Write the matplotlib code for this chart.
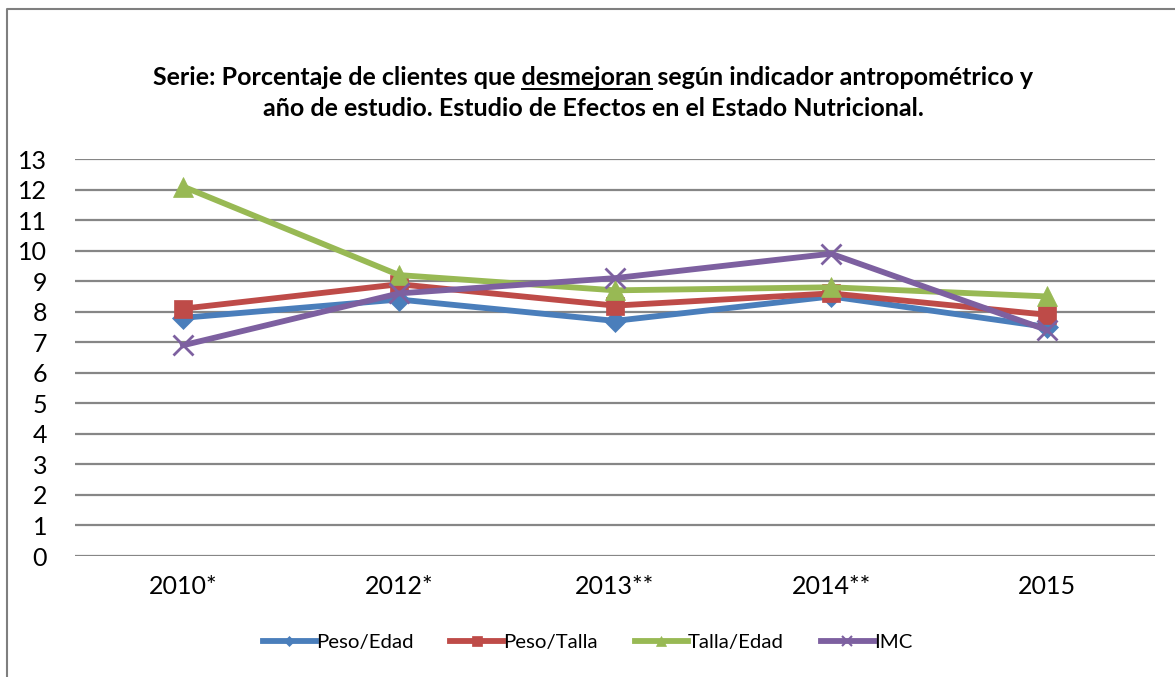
import matplotlib.pyplot as plt
from matplotlib.lines import Line2D

plt.rcParams['font.family'] = ['Lato', 'DejaVu Sans']

years = ['2010*', '2012*', '2013**', '2014**', '2015']
peso_edad = [7.8, 8.4, 7.7, 8.5, 7.5]
peso_talla = [8.1, 8.9, 8.2, 8.6, 7.9]
talla_edad = [12.1, 9.2, 8.7, 8.8, 8.5]
imc = [6.9, 8.6, 9.1, 9.9, 7.4]

series = [
    ('Peso/Edad', peso_edad, '#4A7EBB', 'D', 11),
    ('Peso/Talla', peso_talla, '#BE4B48', 's', 13.5),
    ('Talla/Edad', talla_edad, '#98B954', '^', 15),
    ('IMC', imc, '#7D60A0', 'x', 14),
]

fig = plt.figure(figsize=(11.75, 6.77), dpi=100)
ax = fig.add_axes([0.0638, 0.1787, 0.9192, 0.5864])

x = range(len(years))
for i, (name, vals, col, mk, ms) in enumerate(series):
    ax.plot(x, vals, color=col, lw=4.2, marker=mk, ms=ms, mew=2 if mk == 'x' else 0.5,
            mec=col, mfc=col, label=name, zorder=3 + i)

ax.set_xlim(-0.5, 4.5)
ax.set_ylim(0, 13)
ax.set_yticks(range(0, 14))
ax.set_xticks(list(x))
ax.set_xticklabels(years)
ax.tick_params(axis='both', length=0, labelsize=18, colors='#000000')
ax.tick_params(axis='y', pad=20)
ax.tick_params(axis='x', pad=14)
ax.grid(axis='y', color='#868686', lw=1.6)
ax.set_axisbelow(True)
for s in ax.spines.values():
    s.set_visible(False)

handles = [Line2D([], [], color=col, lw=4.2, marker=mk, ms=ms * 0.5,
                  mew=1.5 if mk == 'x' else 0.5, mec=col, mfc=col)
           for name, vals, col, mk, ms in series]
fig.legend(handles, [s[0] for s in series], loc='center', bbox_to_anchor=(0.5, 1 - 642 / 677),
           ncol=4, frameon=False, fontsize=14.7, handlelength=2.6, handletextpad=0.0,
           columnspacing=1.8)

# title, with underlined word
line1a = 'Serie: Porcentaje de clientes que'
word = 'desmejoran'
line1b = ' según indicador antropométrico y'
full1 = line1a + ' ' + word + line1b
tsize = 18
tkw = dict(fontsize=tsize, fontweight='bold', ha='center', va='baseline')
y1 = 1 - 85 / 677
y2 = 1 - 116 / 677
t1 = fig.text(0.505, y1, full1, **tkw)
fig.text(0.505, y2, 'año de estudio. Estudio de Efectos en el Estado Nutricional.', **tkw)

fig.canvas.draw()
r = fig.canvas.get_renderer()


def width(s):
    t = fig.text(0, 0, s, fontsize=tsize, fontweight='bold')
    w = t.get_window_extent(r).width
    t.remove()
    return w


bb = t1.get_window_extent(r)
pre = width(line1a + ' ' + word)
w_word = width(word)
x_end = bb.x0 + pre
x_start = x_end - w_word
fig.add_artist(Line2D([x_start / 1175, x_end / 1175], [(y1 * 677 - 3.5) / 677] * 2,
                      color='black', lw=1.4, transform=fig.transFigure))

# outer frame (only left and top are visible in the crop)
fig.add_artist(Line2D([6.5 / 1175, 6.5 / 1175, 1.0], [0.0, 1 - 8.5 / 677, 1 - 8.5 / 677],
                      color='#7f7f7f', lw=1.5, transform=fig.transFigure))

fig.savefig('out.png', dpi=100)
